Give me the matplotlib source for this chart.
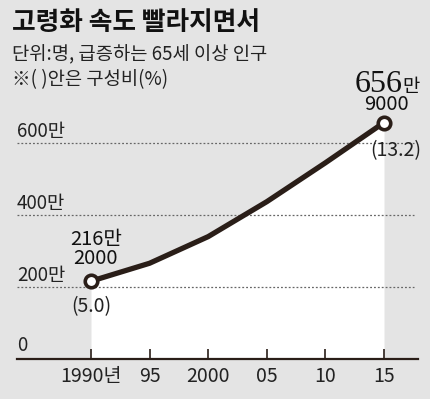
import numpy as np
import matplotlib
matplotlib.use('Agg')
import matplotlib.pyplot as plt

plt.rcParams['font.family'] = ['Noto Sans CJK KR', 'DejaVu Sans']

# data (unit: 만 명)
years = [1990, 1995, 2000, 2005, 2010, 2015]
pop = [216.2, 266, 340, 437, 545, 656.9]
tick_labels = ['1990년', '95', '2000', '05', '10', '15']
grid_vals = [200, 400, 600]
grid_labels = ['200만', '400만', '600만']

bg = '#e4e4e4'
dark = '#2a1e18'

W, H = 430, 399
fig = plt.figure(figsize=(W / 100, H / 100), dpi=100, facecolor=bg)

# axes placed in pixels
left, right, bottom, top = 17, 418, 40, 314
ax = fig.add_axes([left / W, bottom / H, (right - left) / W, (top - bottom) / H])
ax.set_facecolor('none')
px_per_year = (384 - 91) / 25
ax.set_xlim(1990 - (91 - left) / px_per_year, 2015 + (right - 384) / px_per_year)
ax.set_ylim(0, (top - bottom) / 0.36)

for s in ['top', 'right', 'left']:
    ax.spines[s].set_visible(False)
ax.spines['bottom'].set_color(dark)
ax.spines['bottom'].set_linewidth(1.6)

ax.fill_between(years, pop, 0, color='white', zorder=1, lw=0)

x0, x1 = ax.get_xlim()
for v, lab in zip(grid_vals, grid_labels):
    ax.plot([x0, x1 - 0.3], [v, v], color='#666666', lw=0.9, ls=(0, (1.5, 1.6)), zorder=2)
    ax.text(x0, v + 4, lab, ha='left', va='bottom', fontsize=13.5, color='#222222')
ax.text(x0, 8, '0', ha='left', va='bottom', fontsize=13.5, color='#222222')

ax.plot(years, pop, color=dark, lw=3.8, solid_capstyle='round', solid_joinstyle='round', zorder=3)
ax.plot([years[0], years[-1]], [pop[0], pop[-1]], 'o', ms=9, mfc='white', mec=dark, mew=2.6, zorder=4)

ax.set_xticks(years)
ax.set_xticklabels(tick_labels, fontsize=14, color='#222222')
ax.tick_params(axis='x', direction='in', length=7, width=1.2, color=dark, pad=5)
ax.set_yticks([])

# point annotations
ax.text(1990.4, pop[0] + 34, '216만\n2000', ha='center', va='bottom', fontsize=14.5,
        linespacing=0.9, color='#111111')
ax.text(1990, pop[0] - 70, '(5.0)', ha='center', va='center', fontsize=14, color='#222222')
ax.text(2015.2, pop[-1] + 22, '9000', ha='center', va='bottom', fontsize=14.5, color='#111111')
ax.annotate('656', xy=(2015.2, pop[-1] + 86), xytext=(16, 0), textcoords='offset pixels',
            ha='right', va='baseline', fontsize=23, family=['Liberation Serif', 'DejaVu Serif'],
            color='#111111')
ax.annotate('만', xy=(2015.2, pop[-1] + 86), xytext=(16, 0), textcoords='offset pixels',
            ha='left', va='baseline', fontsize=13.5, color='#111111')
ax.text(2016.0, pop[-1] - 78, '(13.2)', ha='center', va='center', fontsize=14, color='#222222')

# titles
fig.text(12 / W, 1 - 22 / H, '고령화 속도 빨라지면서', ha='left', va='center',
         fontsize=18.5, fontweight='bold', color='#111111')
fig.text(12 / W, 1 - 55 / H, '단위:명, 급증하는 65세 이상 인구', ha='left', va='center',
         fontsize=13.5, color='#222222')
fig.text(12 / W, 1 - 80 / H, '※( )안은 구성비(%)', ha='left', va='center',
         fontsize=13.5, color='#222222')

fig.savefig('out.png', dpi=100, facecolor=bg)
